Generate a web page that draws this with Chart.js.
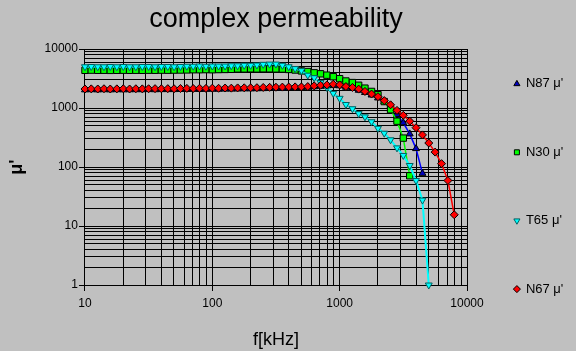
<!DOCTYPE html>
<html>
<head>
<meta charset="utf-8">
<script src="https://cdn.jsdelivr.net/npm/chart.js@4.4.1/dist/chart.umd.min.js"></script>
<style>
  html, body { margin: 0; padding: 0; background: #c0c0c0; }
  #wrap { width: 576px; height: 351px; }
</style>
</head>
<body>
<div id="wrap"><canvas id="chart" width="576" height="351"></canvas></div>
<script>
// measurement frequencies in kHz (20 points per decade)
const freqs = [10, 11.2, 12.6, 14.1, 15.8, 17.8, 20, 22.4, 25.1, 28.2,
    31.6, 35.5, 39.8, 44.7, 50.1, 56.2, 63.1, 70.8, 79.4, 89.1,
    100, 112, 126, 141, 158, 178, 200, 224, 251, 282,
    316, 355, 398, 447, 501, 562, 631, 708, 794, 891,
    1000, 1120, 1260, 1410, 1580, 1780, 2000, 2240, 2510, 2820,
    3160, 3550, 3980, 4470, 5010, 5620, 6310, 7080, 7940];

const n87 = [2030, 2040, 2030, 2040, 2030, 2040, 2030, 2040, 2040, 2040,
    2050, 2040, 2050, 2050, 2050, 2060, 2060, 2070, 2060, 2070,
    2080, 2080, 2090, 2090, 2100, 2110, 2110, 2120, 2130, 2140,
    2150, 2170, 2190, 2210, 2230, 2250, 2290, 2330, 2360, 2400, 2380,
    2250, 2150, 2000, 1830, 1660, 1480, 1290, 1120,
    773, 562, 364, 205, 78];

const n30 = [4350, 4380, 4350, 4360, 4340, 4350, 4370, 4350, 4360, 4350,
    4370, 4360, 4380, 4370, 4390, 4400, 4420,
    4450, 4450, 4470, 4450, 4480, 4500, 4520,
    4600, 4600, 4620, 4600, 4630, 4620, 4600, 4580, 4500,
    4400, 4250,
    4150, 3950, 3800, 3600, 3390, 3140, 2870, 2700, 2430, 2170,
    1910, 1680, 1285, 935, 598, 309, 71];

const t65 = [5000, 5050, 5000, 5000, 5050, 5000, 5050, 5000, 5000, 5050,
    5050, 5000, 5050, 5050, 5000, 5050,
    5100, 5100, 5150, 5100, 5150, 5150, 5150, 5200, 5200,
    5300, 5300, 5350, 5500, 5550, 5550,
    5300, 5000, 4650,
    4300, 3600, 3260, 2700, 2230, 1770, 1460, 1145, 972, 803,
    708, 585, 453, 374, 289, 211, 157, 106, 59, 27.5, 1];

const n67 = [2100, 2110, 2100, 2120, 2100, 2110, 2120, 2100, 2120, 2110,
    2120, 2130, 2120, 2130, 2120,
    2140, 2150, 2140, 2160, 2150, 2170, 2160, 2180, 2170, 2190,
    2200, 2200, 2210, 2230, 2240,
    2250, 2260, 2270, 2280,
    2280, 2310, 2370, 2430, 2460, 2530, 2460, 2310, 2230, 2090,
    1910, 1725, 1556, 1335, 1132, 911, 752, 598, 464, 350,
    255, 179, 114, 59, 15.5];

const majorTicks = [1, 10, 100, 1000, 10000];
const mantissas = [1, 2, 3, 4, 5, 6, 7, 8, 9];

function toPoints(values) {
    return values.map((v, i) => ({ x: freqs[i], y: v }));
}

function isMajor(v) {
    return majorTicks.includes(v);
}

// one grid line for every 1..9 x 10^n, no 1.5 steps
function gridTicks(min, max) {
    const ticks = [];
    for (let d = min; d < max; d *= 10) {
        mantissas.forEach(m => ticks.push({ value: m * d, major: m === 1 }));
    }
    ticks.push({ value: max, major: true });
    return ticks;
}

Chart.defaults.font.family = "'Liberation Sans', Arial, sans-serif";
Chart.defaults.color = '#000';

const gridOpts = {
    color: '#000',
    lineWidth: 1,
    tickLength: 6,
    tickColor: ctx => (ctx.tick && isMajor(ctx.tick.value)) ? '#000' : 'rgba(0,0,0,0)'
};

// pull the legend a little to the left, its padding pushes it too far
const legendNudge = {
    id: 'legendNudge',
    afterLayout(chart) {
        const lg = chart.legend;
        if (lg) {
            lg.left -= 8;
            lg.right -= 8;
        }
    }
};

function series(label, values, line, fill, style, radius, order, extra) {
    return Object.assign({
        label: label,
        data: toPoints(values),
        borderColor: line,
        backgroundColor: fill,
        borderWidth: 1.5,
        tension: 0,
        pointStyle: style,
        pointRadius: radius,
        pointHoverRadius: radius,
        pointBackgroundColor: fill,
        pointBorderColor: '#000',
        pointBorderWidth: 1,
        order: order,
        clip: false
    }, extra || {});
}

new Chart(document.getElementById('chart'), {
    type: 'line',
    data: {
        datasets: [
            series("N87 \u03bc'", n87, '#0000ff', '#0000c0', 'triangle', 4, 3),
            series("N30 \u03bc'", n30, '#00ff00', '#00ff00', 'rect', 4.5, 2),
            series("T65 \u03bc'", t65, '#00ffff', '#00ffff', 'triangle', 4, 1,
                { borderWidth: 2, pointRotation: 180, pointBorderColor: '#006060' }),
            series("N67 \u03bc'", n67, '#ff0000', '#ff0000', 'rectRot', 4, 0)
        ]
    },
    options: {
        responsive: false,
        animation: false,
        layout: { padding: 0 },
        plugins: {
            title: {
                display: true,
                text: 'complex permeability',
                fullSize: false,
                font: { size: 27, weight: 'normal' },
                color: '#000',
                padding: { top: 3, bottom: 13.6 }
            },
            legend: {
                position: 'right',
                align: 'end',
                maxWidth: 109,
                labels: {
                    usePointStyle: true,
                    boxWidth: 5,
                    boxHeight: 5,
                    padding: 55.4,
                    font: { size: 13 },
                    color: '#000',
                    sort: (a, b) => a.datasetIndex - b.datasetIndex
                }
            },
            tooltip: { enabled: false }
        },
        scales: {
            x: {
                type: 'logarithmic',
                min: 10,
                max: 10000,
                afterBuildTicks: axis => { axis.ticks = gridTicks(10, 10000); },
                ticks: {
                    autoSkip: false,
                    maxRotation: 0,
                    padding: 5,
                    font: { size: 12 },
                    color: '#000',
                    callback: v => isMajor(v) ? String(v) : ''
                },
                grid: gridOpts,
                border: { color: '#000', width: 1 },
                title: {
                    display: true,
                    text: 'f[kHz]',
                    font: { size: 18 },
                    color: '#000',
                    padding: { top: 13.8, bottom: 0.2 }
                }
            },
            y: {
                type: 'logarithmic',
                min: 1,
                max: 10000,
                afterBuildTicks: axis => { axis.ticks = gridTicks(1, 10000); },
                ticks: {
                    autoSkip: false,
                    padding: 1,
                    font: { size: 12 },
                    color: '#000',
                    callback: v => isMajor(v) ? String(v) : ''
                },
                grid: gridOpts,
                border: { color: '#000', width: 1 },
                title: {
                    display: true,
                    text: "\u03bc'",
                    font: { size: 18, weight: 'bold' },
                    color: '#000',
                    padding: { top: 6.2, bottom: 15.8 }
                }
            }
        }
    },
    plugins: [legendNudge]
});
</script>
</body>
</html>
